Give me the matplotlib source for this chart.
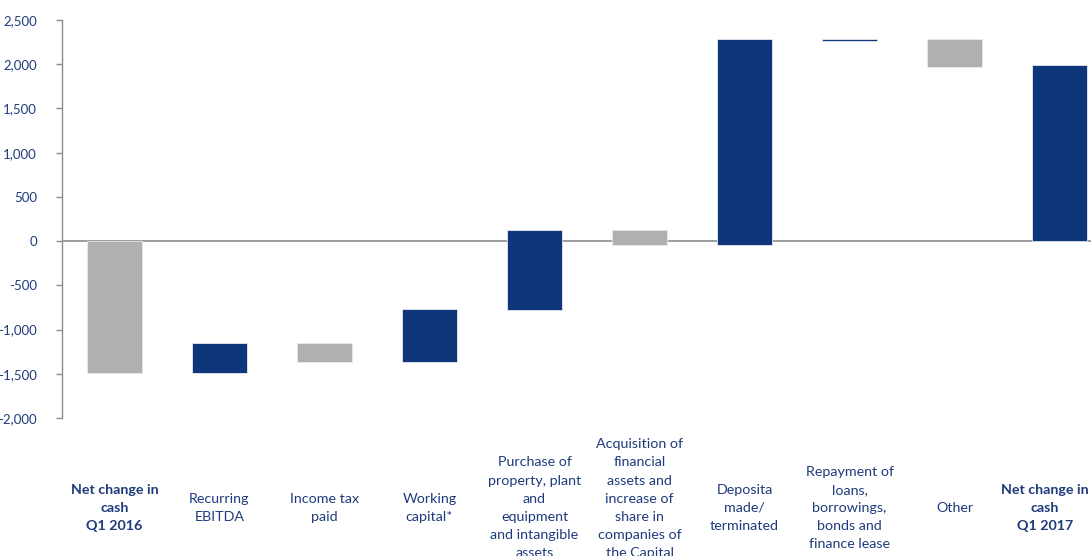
import matplotlib
matplotlib.use("Agg")
import matplotlib.pyplot as plt
import matplotlib.transforms as mtransforms

# data (start / end of each floating bar)
categories = [
    "Net change in\ncash\nQ1 2016",
    "Recurring\nEBITDA",
    "Income tax\npaid",
    "Working\ncapital*",
    "Purchase of\nproperty, plant\nand\nequipment\nand intangible\nassets",
    "Acquisition of\nfinancial\nassets and\nincrease of\nshare in\ncompanies of\nthe Capital\nGroup",
    "Deposita\nmade/\nterminated",
    "Repayment of\nloans,\nborrowings,\nbonds and\nfinance lease",
    "Other",
    "Net change in\ncash\nQ1 2017",
]
bar_start = [0, -1495, -1155, -1366, -775, 129, -41, 2288, 2288, 0]
bar_end = [-1495, -1155, -1366, -766, 129, -41, 2288, 2258, 1970, 1990]
bar_kind = ["gray", "blue", "gray", "blue", "blue", "gray", "blue", "blue", "gray", "blue"]
bold_labels = [0, 9]
yticks = [-2000, -1500, -1000, -500, 0, 500, 1000, 1500, 2000, 2500]

NAVY = "#0F357B"
GRAY = "#B0B0B0"
TEXT = "#1F3B7C"
AXIS = "#8C8C8C"

plt.rcParams["font.family"] = ["Lato", "DejaVu Sans"]

fig = plt.figure(figsize=(10.91, 5.56), dpi=100)
ax = fig.add_axes([62 / 1091, 138 / 556, 1050 / 1091, 398 / 556])

x = list(range(len(categories)))
bottoms = [min(s, e) for s, e in zip(bar_start, bar_end)]
heights = [abs(e - s) for s, e in zip(bar_start, bar_end)]
colors = [NAVY if k == "blue" else GRAY for k in bar_kind]
ax.bar(x, heights, bottom=bottoms, width=0.52, color=colors,
       edgecolor="#E6E9F0", linewidth=0.6, zorder=3)

ax.axhline(0, color=AXIS, linewidth=1.2, zorder=2)

ax.set_xlim(-0.5, len(categories) - 0.5)
ax.set_ylim(-2000, 2500)
ax.set_yticks(yticks)
ax.set_yticklabels([f"{v:,}" for v in yticks])
ax.tick_params(axis="y", direction="out", length=4, width=1, color=AXIS,
               labelsize=9.5, labelcolor=TEXT, pad=14)
ax.set_xticks([])
for s in ["top", "right", "bottom"]:
    ax.spines[s].set_visible(False)
ax.spines["left"].set_color(AXIS)
ax.spines["left"].set_linewidth(1)

# category labels under the plot; the last one is nudged left to fit the edge
trans = mtransforms.blended_transform_factory(ax.transData, ax.transAxes)
for i, lab in enumerate(categories):
    xpos = i - 0.14 if i == len(categories) - 1 else i
    ax.text(xpos, -0.226, lab, transform=trans, ha="center", va="center",
            fontsize=10.3, color=TEXT, linespacing=1.62,
            fontweight="bold" if i in bold_labels else "normal",
            clip_on=False)

fig.savefig("out.png", dpi=100)
